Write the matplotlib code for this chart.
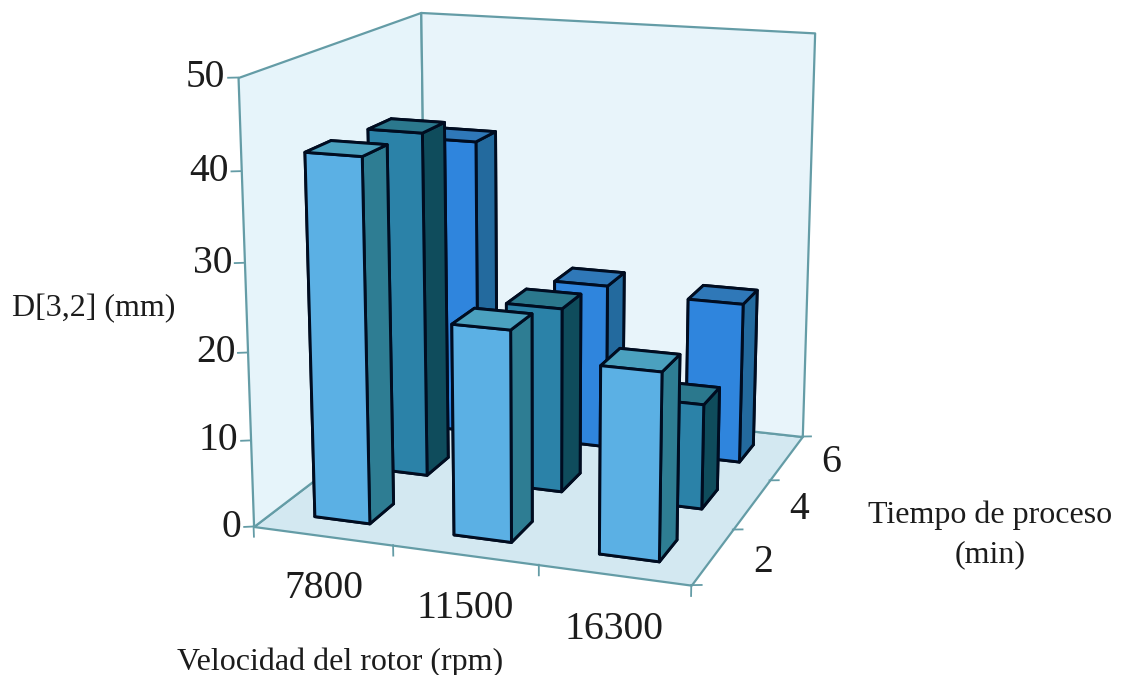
"""3D bar chart: D[3,2] by rotor speed and process time."""
import matplotlib

matplotlib.use("Agg")
import matplotlib.pyplot as plt
from mpl_toolkits.mplot3d import proj3d
from mpl_toolkits.mplot3d.art3d import Poly3DCollection

rotor_speeds = ["7800", "11500", "16300"]
process_times = ["2", "4", "6"]
z_ticks = [0, 10, 20, 30, 40, 50]

# one list per process time, in rotor speed order
d32_t2 = [41.4, 23.9, 21.0]
d32_t4 = [40.8, 21.8, 12.3]
d32_t6 = [36.6, 20.2, 19.5]

# face colours: bottom, top, front, back, left, right
row_colors = [
    ["#2e7d93", "#4ba1bf", "#5bb0e4", "#2e7d93", "#2e7d93", "#2e7d93"],
    ["#0f4c5c", "#2b788d", "#2b82a8", "#0f4c5c", "#0f4c5c", "#0f4c5c"],
    ["#236a9e", "#2f78b8", "#2f85dd", "#236a9e", "#236a9e", "#236a9e"],
]
EDGE = "#649ca6"
INK = "#1c1c1c"

W, H = 1121, 675
plt.rcParams["font.family"] = ["Liberation Serif", "DejaVu Serif"]

fig = plt.figure(figsize=(W / 100, H / 100), dpi=100)
# camera was fitted to the picture's box corners
side = 738.67
ax = fig.add_axes([163.9 / W, 24.0 / H, side / W, side / H], projection="3d", computed_zorder=False)
ax.set_xlim(0, 3)
ax.set_ylim(0, 3)
ax.set_zlim(0, 50)
ax.view_init(elev=14.75, azim=-70.56, roll=0)
ax.set_proj_type("persp", focal_length=0.5687)
ax.set_box_aspect((1, 1, 1))
ax.set_axis_off()
ax.patch.set_alpha(0)


def label(x, y, z, s, ha="center"):
    u, v, _ = proj3d.proj_transform(x, y, z, ax.get_proj())
    ax.text2D(u, v, s, transform=ax.transData, ha=ha, va="center", fontsize=28.5, color=INK)


# walls and floor
panes = [
    ([(0, 0, 0), (3, 0, 0), (3, 3, 0), (0, 3, 0)], "#d3e8f1"),
    ([(0, 0, 0), (0, 3, 0), (0, 3, 50), (0, 0, 50)], "#e6f4fa"),
    ([(0, 3, 0), (3, 3, 0), (3, 3, 50), (0, 3, 50)], "#e8f4fa"),
]
for verts, col in panes:
    ax.add_collection3d(Poly3DCollection([verts], facecolor=col, edgecolor=EDGE, linewidth=1.6, zorder=1))

# ticks
for z in z_ticks:
    ax.plot([-0.055, 0], [-0.028, 0], [z, z], color=EDGE, lw=1.3, zorder=2)
    label(-0.07, -0.035, z, str(z), ha="right")
for x in range(4):
    ax.plot([x, x], [0, 0], [0, -1.2], color=EDGE, lw=1.3, zorder=2)
for y in range(4):
    ax.plot([3, 3.06], [y, y + 0.024], [0, 0], color=EDGE, lw=1.3, zorder=2)
for i, lab in enumerate(rotor_speeds):
    label(i + 0.5, 0, -6.2, lab)
for i, lab in enumerate(process_times):
    label(3.33, i + 0.5, 0, lab)

# bars, back row first
BAR = 0.4
rows = [d32_t2, d32_t4, d32_t6]
zo = 10
for j in (2, 1, 0):
    for i, val in enumerate(rows[j]):
        ax.bar3d(i + 0.505 - BAR / 2, j + 0.5 - BAR / 2, 0, BAR, BAR, val, color=row_colors[j],
                 shade=False, edgecolor="#000c20", linewidth=2.1, zorder=zo)
        zo += 1

fig.text(340 / W, 1 - 662 / H, "Velocidad del rotor (rpm)", ha="center", va="center", fontsize=23, color=INK)
fig.text(94 / W, 1 - 309 / H, "D[3,2] (mm)", ha="center", va="center", fontsize=23, color=INK)
fig.text(990 / W, 1 - 535 / H, "Tiempo de proceso\n(min)", ha="center", va="center", fontsize=23,
         color=INK, linespacing=1.45)

fig.savefig("out.png", dpi=100)
